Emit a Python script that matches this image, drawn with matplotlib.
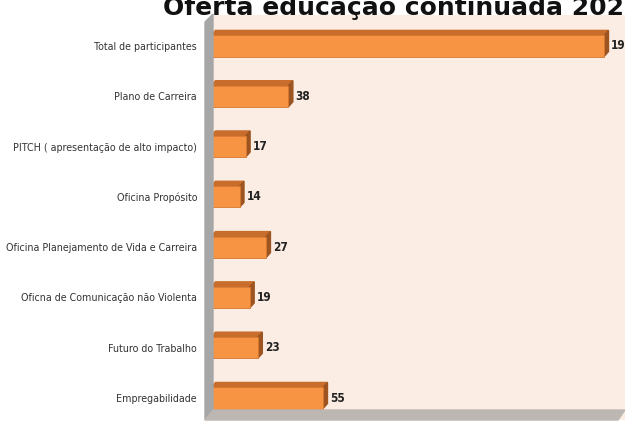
import matplotlib.pyplot as plt
from matplotlib import font_manager
from matplotlib.patches import Polygon

categories = ['Empregabilidade', 'Futuro do Trabalho', 'Oficna de Comunicação não Violenta',
              'Oficina Planejamento de Vida e Carreira', 'Oficina Propósito',
              'PITCH ( apresentação de alto impacto)', 'Plano de Carreira',
              'Total de participantes']
values = [55, 23, 19, 27, 14, 17, 38, 193]
title = 'Oferta educação continuada 2021'

# look for a narrow face (labels in the reference are condensed)
narrow = None
for f in font_manager.fontManager.ttflist:
    if 'Narrow' in f.name or 'Condensed' in f.name or f.stretch in ('condensed', 'semi-condensed'):
        narrow = f
        break
if narrow is not None:
    lab_font = dict(family=narrow.name, stretch=narrow.stretch)
    lab_size = 7.7
else:
    lab_font = dict(family='Liberation Sans')
    lab_size = 7.2

W, H = 625, 424
fig = plt.figure(figsize=(W / 100, H / 100), dpi=100)
fig.patch.set_facecolor('white')

# axes: bars start at x=211px, plot spans y 15..420 px
ax = fig.add_axes([211 / W, (H - 420) / H, (W - 211) / W, 405 / H])
ax.set_facecolor('#fcede4')
ax.set_xlim(0, 203.3)
ax.set_ylim(-0.437, 7.616)

face = '#f79444'
top = '#c86d2c'
side = '#9c5420'
bh = 0.42
dx, dy = 2.2, 0.1   # depth offset in data units

ypos = list(range(len(categories)))
ax.barh(ypos, values, height=bh, color=face, edgecolor='#d9782f', linewidth=0.6, zorder=3)
for y, v in zip(ypos, values):
    yt = y + bh / 2
    ax.add_patch(Polygon([(0, yt), (v, yt), (v + dx, yt + dy), (dx, yt + dy)],
                         closed=True, color=top, zorder=2))
    ax.add_patch(Polygon([(v, y - bh / 2), (v, yt), (v + dx, yt + dy), (v + dx, y - bh / 2 + dy)],
                         closed=True, color=side, zorder=2))
    ax.annotate(str(v), (v + dx, y), xytext=(2, 0), textcoords='offset points',
                va='center', ha='left', fontsize=lab_size + 0.8, fontweight='bold',
                color='#222222', **lab_font)

ax.set_yticks(ypos)
ax.set_yticklabels(categories, fontsize=lab_size, color='#333333', **lab_font)
ax.tick_params(axis='y', length=0, pad=10)
ax.set_xticks([])
for s in ax.spines.values():
    s.set_visible(False)

# gray wall and floor
tf = fig.transFigure
fig.patches.append(Polygon([(205 / W, (H - 420) / H), (205 / W, (H - 22) / H),
                            (213 / W, (H - 14) / H), (213 / W, (H - 410) / H)],
                           closed=True, transform=tf, color='#a6a6a6', zorder=5))
fig.patches.append(Polygon([(205 / W, (H - 420) / H), (213 / W, (H - 410) / H),
                            (625 / W, (H - 410) / H), (618 / W, (H - 420) / H)],
                           closed=True, transform=tf, color='#bdb7b4', zorder=5))

fig.text(163 / W, (H - 15) / H, title, fontsize=18, fontweight='bold',
         ha='left', va='baseline', color='#111111')

fig.savefig('out.png', dpi=100)
